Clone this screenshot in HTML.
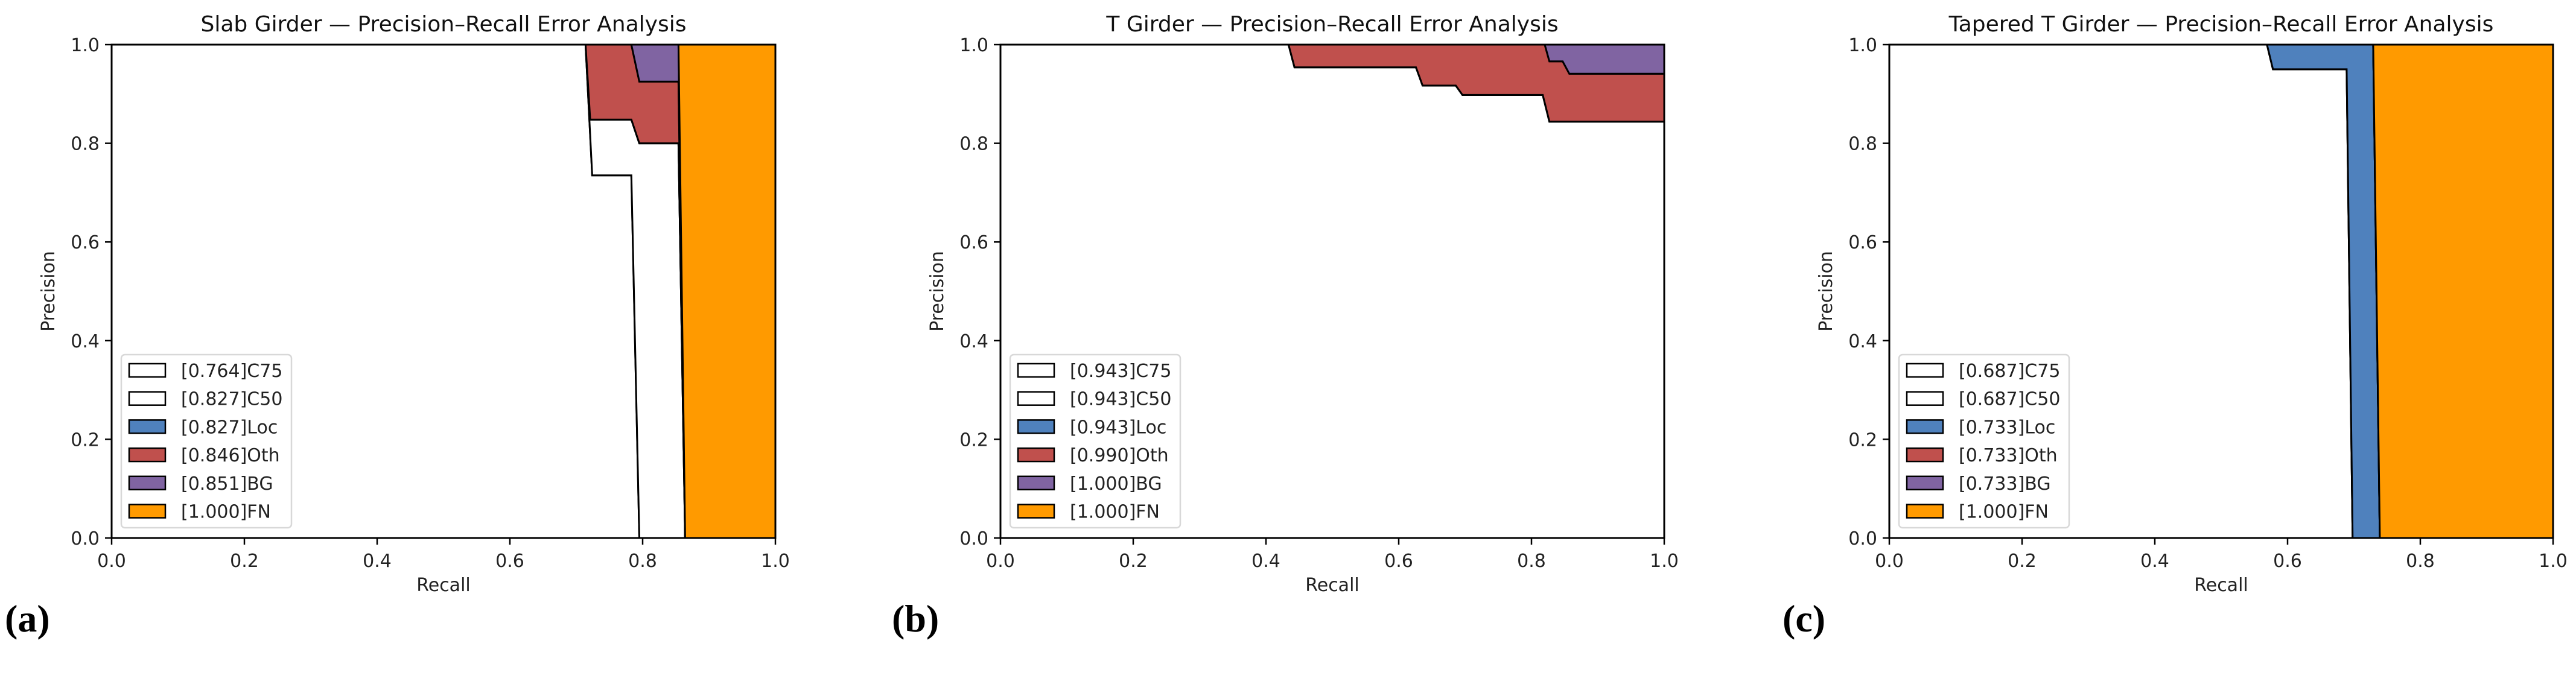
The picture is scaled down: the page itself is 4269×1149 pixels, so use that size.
<!DOCTYPE html>
<html><head><meta charset="utf-8">
<style>
html,body{margin:0;padding:0;background:#fff;}
svg{display:block;font-family:"DejaVu Sans","Liberation Sans",sans-serif;}
</style></head>
<body>
<svg id="fig" xmlns="http://www.w3.org/2000/svg" width="4269" height="1149" viewBox="0 0 4269 1149"></svg>
<script>
// ---- data ----
const panelTitles = ["Slab Girder — Precision–Recall Error Analysis","T Girder — Precision–Recall Error Analysis","Tapered T Girder — Precision–Recall Error Analysis"];
const panelLetters = ["(a)","(b)","(c)"];
const seriesNames = ["C75","C50","Loc","Oth","BG","FN"];
const seriesColors = ["#ffffff","#ffffff","#4f81bd","#c0504d","#8064a2","#ff9a00"];
const apA = [0.764,0.827,0.827,0.846,0.851,1.000];
const apB = [0.943,0.943,0.943,0.990,1.000,1.000];
const apC = [0.687,0.687,0.733,0.733,0.733,1.000];
const ticks = [0,0.2,0.4,0.6,0.8,1.0];
const tickLabels = ["0.0","0.2","0.4","0.6","0.8","1.0"];
// panel a curves (recall, precision)
const aC75R = [0,0.714,0.724,0.783,0.795,1];           const aC75P = [1,1,0.735,0.735,0,0];
const aC50R = [0,0.714,0.721,0.783,0.795,0.854,0.864,1]; const aC50P = [1,1,0.848,0.848,0.80,0.80,0,0];
const aLocR = aC50R; const aLocP = aC50P;
const aOthR = [0,0.783,0.795,0.854,0.864,1];           const aOthP = [1,1,0.925,0.925,0,0];
const aBGR  = [0,0.854,0.864,1];                       const aBGP  = [1,1,0,0];
const aFNR  = [0,1];                                   const aFNP  = [1,1];
// panel b
const bC75R = [0,0.434,0.443,0.626,0.636,0.686,0.696,0.817,0.827,1]; const bC75P = [1,1,0.954,0.954,0.917,0.917,0.898,0.898,0.844,0.844];
const bC50R = bC75R; const bC50P = bC75P;
const bLocR = bC75R; const bLocP = bC75P;
const bOthR = [0,0.82,0.827,0.847,0.857,1]; const bOthP = [1,1,0.966,0.966,0.941,0.941];
const bBGR = [0,1]; const bBGP = [1,1];
const bFNR = [0,1]; const bFNP = [1,1];
// panel c
const cC75R = [0,0.569,0.578,0.689,0.698,1]; const cC75P = [1,1,0.95,0.95,0,0];
const cC50R = cC75R; const cC50P = cC75P;
const cLocR = [0,0.729,0.739,1]; const cLocP = [1,1,0,0];
const cOthR = cLocR; const cOthP = cLocP;
const cBGR = cLocR; const cBGP = cLocP;
const cFNR = [0,1]; const cFNP = [1,1];

const panels = [
  {ap: apA, R:[aC75R,aC50R,aLocR,aOthR,aBGR,aFNR], P:[aC75P,aC50P,aLocP,aOthP,aBGP,aFNP]},
  {ap: apB, R:[bC75R,bC50R,bLocR,bOthR,bBGR,bFNR], P:[bC75P,bC50P,bLocP,bOthP,bBGP,bFNP]},
  {ap: apC, R:[cC75R,cC50R,cLocR,cOthR,cBGR,cFNR], P:[cC75P,cC50P,cLocP,cOthP,cBGP,cFNP]}
];
// ---- layout ----
const axLeft = [185,1658,3131], axTop = 74, axW = 1100, axH = 818;
const letterX = [8,1478,2954];
const NS = "http://www.w3.org/2000/svg";
const svg = document.getElementById('fig');
function mk(tag, attrs, parent){
  const e = document.createElementNS(NS, tag);
  for (const k in attrs) e.setAttribute(k, attrs[k]);
  (parent||svg).appendChild(e); return e;
}
panels.forEach((pd, pi) => {
  const L = axLeft[pi];
  const xs = r => L + r*axW;
  const ys = p => axTop + (1-p)*axH;
  const g = mk('g', {});
  
  
  // fills
  for (let s = 0; s < seriesNames.length; s++) {
    const upR = pd.R[s], upP = pd.P[s];
    let pts = [];
    for (let i=0;i<upR.length;i++) pts.push(xs(upR[i]).toFixed(1)+','+ys(upP[i]).toFixed(1));
    if (s === 0) { pts.push(xs(1)+','+ys(0)); pts.push(xs(0)+','+ys(0)); }
    else {
      const lr = pd.R[s-1], lp = pd.P[s-1];
      for (let i=lr.length-1;i>=0;i--) pts.push(xs(lr[i]).toFixed(1)+','+ys(lp[i]).toFixed(1));
    }
    const poly = mk('polygon', {points: pts.join(' '), fill: seriesColors[s], stroke:'#000', 'stroke-width':3, 'stroke-linejoin':'miter'}, g);
    
    
  }
  // cover outside lines with frame
  const frame = mk('rect', {x:L, y:axTop, width:axW, height:axH, fill:'none', stroke:'#000', 'stroke-width':3}, g);
  
  
  // ticks
  ticks.forEach((t, i) => {
    mk('line', {x1:xs(t), x2:xs(t), y1:axTop+axH, y2:axTop+axH+11, stroke:'#000', 'stroke-width':2.5}, g);
    const xl = mk('text', {x:xs(t), y:axTop+axH+48, 'font-size':30, 'text-anchor':'middle', fill:'#222'}, g);
    xl.textContent = tickLabels[i];
    
    
    mk('line', {x1:L-11, x2:L, y1:ys(t), y2:ys(t), stroke:'#000', 'stroke-width':2.5}, g);
    const yl = mk('text', {x:L-20, y:ys(t)+11, 'font-size':30, 'text-anchor':'end', fill:'#222'}, g);
    yl.textContent = tickLabels[i];
    
    
  });
  const xt = mk('text', {x:L+axW/2, y:axTop+axH+88, 'font-size':30, 'text-anchor':'middle', fill:'#222'}, g);
  xt.textContent = 'Recall';
  
  
  const yt = mk('text', {x:0, y:0, 'font-size':30, 'text-anchor':'middle', fill:'#222', transform:`translate(${L-95},${axTop+axH/2}) rotate(-90)`}, g);
  yt.textContent = 'Precision';
  
  
  const tt = mk('text', {x:L+axW/2, y:52, 'font-size':36, 'text-anchor':'middle', fill:'#111'}, g);
  tt.textContent = panelTitles[pi];
  
  
  const lt = mk('text', {x:letterX[pi], y:1047, 'font-size':64, 'font-weight':'bold', fill:'#000', 'font-family':'"Liberation Serif", serif'}, g);
  lt.textContent = panelLetters[pi];
  
  
  // legend
  const lg = mk('g', {}, g);
  
  
  mk('rect', {x:L+16, y:588, width:282, height:287, rx:6, fill:'#fff', 'fill-opacity':0.85, stroke:'#d8d8d8', 'stroke-width':2.5}, lg);
  seriesNames.forEach((n, s) => {
    const cy = 614 + s*46.7;
    const sw = mk('rect', {x:L+29, y:cy-11, width:60, height:22, fill:seriesColors[s], stroke:'#000', 'stroke-width':2.5}, lg);
    
    
    const tx = mk('text', {x:L+115, y:cy+11, 'font-size':30, fill:'#222'}, lg);
    tx.textContent = '[' + pd.ap[s].toFixed(3) + ']' + n;
    
    
  });
});
</script>
</body></html>
